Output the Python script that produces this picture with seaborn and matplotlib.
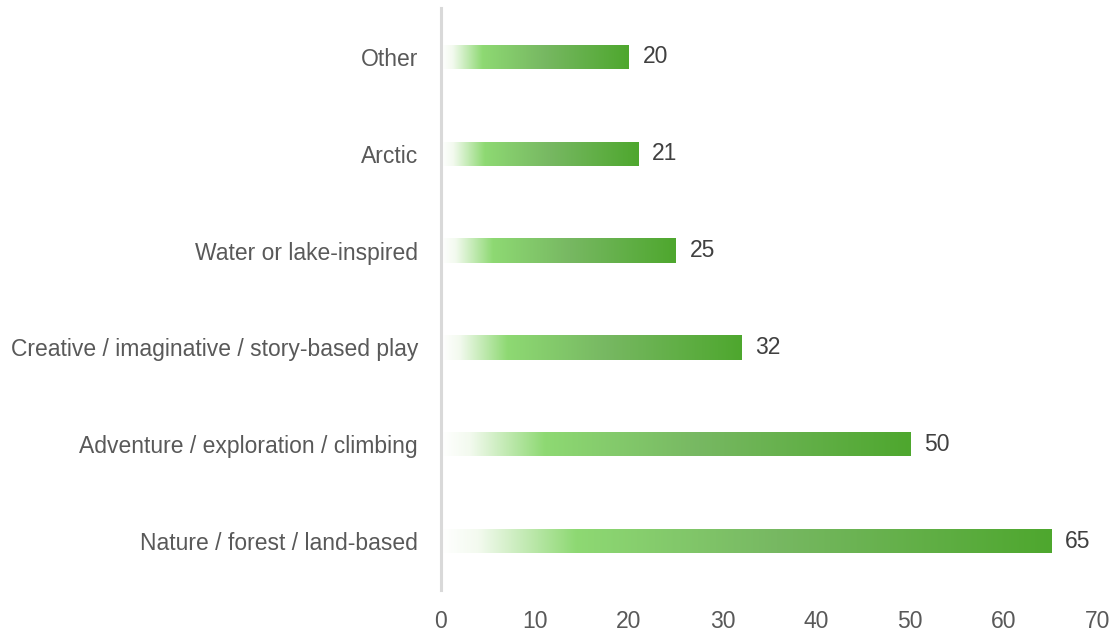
import numpy as np
import matplotlib
matplotlib.use("Agg")
import matplotlib.pyplot as plt
from matplotlib.colors import LinearSegmentedColormap
import seaborn as sns

categories = ["Other", "Arctic", "Water or lake-inspired",
              "Creative / imaginative / story-based play",
              "Adventure / exploration / climbing",
              "Nature / forest / land-based"]
counts = [20, 21, 25, 32, 50, 65]
x_ticks = [0, 10, 20, 30, 40, 50, 60, 70]

sns.set_theme(style="white")
plt.rcParams['font.family'] = ['Liberation Sans', 'DejaVu Sans']

fig = plt.figure(figsize=(11.13, 6.33), dpi=100)
ax = fig.add_axes([0.3962, 0.0687, 0.5903, 0.9179])

sns.barplot(x=counts, y=categories, orient="h", width=0.25, ax=ax)

# fade from white to light green, then to the dark green at the bar end
grad = LinearSegmentedColormap.from_list(
    "fade", [(0.0, "#ffffff"), (0.06, "#f3faef"), (0.22, "#8ed973"),
             (0.55, "#77b862"), (1.0, "#4ea72e")])
strip = grad(np.linspace(0, 1, 256))[None, :, :]
for p in ax.patches:
    x0, y0 = p.get_x(), p.get_y()
    w, h = p.get_width(), p.get_height()
    p.set_facecolor("none")
    p.set_edgecolor("none")
    im = ax.imshow(strip, extent=[x0, x0 + w, y0 + h, y0], aspect="auto",
                   interpolation="bilinear", zorder=2)
    im.set_clip_path(p)

for c in ax.containers:
    ax.bar_label(c, padding=10, fontsize=16.5, color="#404040")

ax.set_xlim(0, 70)
ax.set_ylim(5.5, -0.5)
ax.set_xticks(x_ticks)
ax.set_xticklabels([str(t) for t in x_ticks])
ax.set_xlabel("")
ax.set_ylabel("")
ax.tick_params(axis="x", length=0, pad=15, labelsize=16.5, labelcolor="#595959")
ax.tick_params(axis="y", length=0, pad=16.5, labelsize=16.5, labelcolor="#595959")

for s in ["top", "right", "bottom"]:
    ax.spines[s].set_visible(False)
ax.spines["left"].set_color("#d9d9d9")
ax.spines["left"].set_linewidth(2.2)
ax.spines["left"].set_zorder(3)

fig.savefig("out.png", dpi=100)
